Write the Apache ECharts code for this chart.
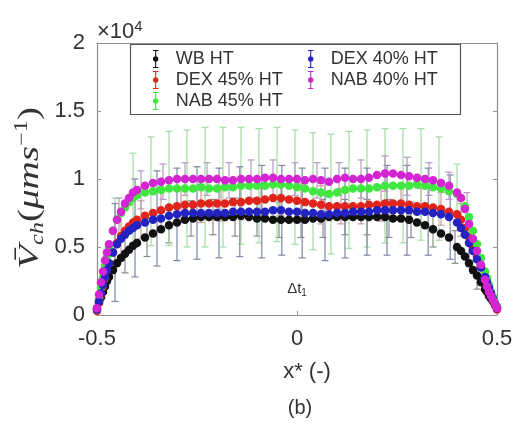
<!DOCTYPE html>
<html>
<head>
<meta charset="utf-8">
<script src="https://cdn.jsdelivr.net/npm/echarts@6/dist/echarts.min.js"></script>
<style>
  html, body { margin: 0; padding: 0; background: #ffffff; }
  #chart { width: 516px; height: 424px; }
</style>
</head>
<body>
<div id="chart"></div>
<script>
// Normalised channel position x* (denser sampling near the walls)
const xs = [
  -0.5, -0.495, -0.49, -0.485, -0.48, -0.475, -0.47,
  -0.46, -0.45, -0.44, -0.43, -0.42, -0.41,
  -0.40, -0.38, -0.36, -0.34, -0.32, -0.30, -0.28, -0.26, -0.24, -0.22,
  -0.20, -0.18, -0.16, -0.14, -0.12, -0.10, -0.08, -0.06, -0.04, -0.02,
  0,
  0.02, 0.04, 0.06, 0.08, 0.10, 0.12, 0.14, 0.16, 0.18, 0.20,
  0.22, 0.24, 0.26, 0.28, 0.30, 0.32, 0.34, 0.36, 0.38, 0.40,
  0.41, 0.42, 0.43, 0.44, 0.45, 0.46, 0.47,
  0.475, 0.48, 0.485, 0.49, 0.495, 0.5
];

// Mean velocity, units of 1e4 µm/s
const wbHT = [
  0.05, 0.09, 0.13, 0.17, 0.21, 0.25, 0.28,
  0.33, 0.38, 0.42, 0.45, 0.48, 0.51,
  0.53, 0.57, 0.60, 0.63, 0.66, 0.68, 0.70, 0.71, 0.72, 0.72,
  0.72, 0.72, 0.72, 0.73, 0.72, 0.71, 0.71, 0.70, 0.70, 0.70,
  0.70,
  0.70, 0.71, 0.71, 0.72, 0.72, 0.72, 0.72, 0.72, 0.72, 0.72,
  0.72, 0.71, 0.71, 0.70, 0.68, 0.66, 0.63, 0.60, 0.57, 0.50,
  0.47, 0.43, 0.38, 0.33, 0.29, 0.24, 0.19,
  0.17, 0.14, 0.12, 0.10, 0.08, 0.06
];
const dex45HT = [
  0.03, 0.09, 0.15, 0.21, 0.27, 0.33, 0.38,
  0.46, 0.53, 0.58, 0.62, 0.65, 0.68,
  0.70, 0.73, 0.75, 0.77, 0.79, 0.80, 0.81, 0.81, 0.82, 0.82,
  0.82, 0.82, 0.83, 0.83, 0.84, 0.84, 0.85, 0.86, 0.86, 0.85,
  0.84,
  0.83, 0.82, 0.81, 0.80, 0.80, 0.80, 0.80, 0.80, 0.81, 0.81,
  0.82, 0.82, 0.82, 0.81, 0.80, 0.80, 0.79, 0.78, 0.76, 0.74,
  0.70, 0.64, 0.57, 0.50, 0.43, 0.36, 0.28,
  0.24, 0.19, 0.15, 0.11, 0.07, 0.04
];
const nab45HT = [
  0.04, 0.12, 0.20, 0.28, 0.36, 0.43, 0.50,
  0.62, 0.70, 0.75, 0.79, 0.83, 0.86,
  0.88, 0.90, 0.91, 0.92, 0.93, 0.93, 0.93, 0.93, 0.94, 0.93,
  0.93, 0.94, 0.94, 0.95, 0.95, 0.95, 0.95, 0.96, 0.96, 0.95,
  0.94,
  0.93, 0.91, 0.90, 0.89, 0.90, 0.92, 0.93, 0.93, 0.93, 0.94,
  0.95, 0.95, 0.95, 0.95, 0.96, 0.95, 0.94, 0.93, 0.91, 0.89,
  0.86, 0.80, 0.72, 0.62, 0.52, 0.42, 0.32,
  0.27, 0.22, 0.17, 0.13, 0.09, 0.06
];
const dex40HT = [
  0.04, 0.10, 0.16, 0.22, 0.28, 0.33, 0.38,
  0.46, 0.52, 0.56, 0.59, 0.62, 0.64,
  0.66, 0.68, 0.70, 0.71, 0.73, 0.74, 0.75, 0.75, 0.75, 0.75,
  0.75, 0.75, 0.76, 0.76, 0.76, 0.76, 0.76, 0.77, 0.77, 0.76,
  0.76,
  0.75, 0.75, 0.74, 0.74, 0.75, 0.75, 0.76, 0.76, 0.76, 0.77,
  0.77, 0.77, 0.77, 0.77, 0.76, 0.76, 0.75, 0.74, 0.72, 0.68,
  0.64, 0.59, 0.53, 0.47, 0.41, 0.35, 0.28,
  0.24, 0.20, 0.16, 0.12, 0.08, 0.05
];
const nab40HT = [
  0.05, 0.15, 0.24, 0.32, 0.40, 0.46, 0.52,
  0.62, 0.70, 0.76, 0.82, 0.86, 0.90,
  0.92, 0.95, 0.97, 0.98, 0.99, 1.00, 1.00, 1.00, 1.00, 1.00,
  1.00, 0.99, 0.99, 1.00, 1.00, 1.00, 1.01, 1.01, 1.00, 1.00,
  1.00,
  0.99, 1.00, 0.99, 0.98, 1.00, 1.01, 1.00, 1.00, 1.01, 1.03,
  1.04, 1.04, 1.03, 1.02, 1.01, 1.00, 0.99, 0.97, 0.95, 0.90,
  0.86, 0.78, 0.67, 0.56, 0.47, 0.37, 0.26,
  0.21, 0.17, 0.14, 0.11, 0.08, 0.05
];

// Standard-deviation error bars: positions and half-widths (1e4 µm/s)
const wbErrX    = [-0.43, -0.375, -0.32, -0.265, -0.21, -0.155, -0.10, -0.045, 0.01, 0.065, 0.12, 0.175, 0.23, 0.285, 0.34, 0.395, 0.45];
const wbErr     = [0.14, 0.14, 0.13, 0.13, 0.13, 0.14, 0.13, 0.13, 0.13, 0.14, 0.13, 0.13, 0.14, 0.13, 0.13, 0.12, 0.10];
const dex45ErrX = [-0.44, -0.39, -0.34, -0.29, -0.24, -0.19, -0.14, -0.09, -0.04, 0.01, 0.06, 0.11, 0.16, 0.21, 0.26, 0.31, 0.36, 0.41];
const dex45Err  = [0.15, 0.14, 0.13, 0.13, 0.14, 0.13, 0.13, 0.12, 0.13, 0.13, 0.14, 0.13, 0.13, 0.12, 0.13, 0.13, 0.12, 0.12];
const nab45ErrX = [-0.455, -0.41, -0.365, -0.32, -0.275, -0.23, -0.185, -0.14, -0.095, -0.05, -0.005, 0.04, 0.085, 0.13, 0.175, 0.22, 0.265, 0.31, 0.355, 0.40];
const nab45Err  = [0.24, 0.33, 0.40, 0.42, 0.43, 0.44, 0.44, 0.43, 0.42, 0.42, 0.42, 0.43, 0.44, 0.43, 0.43, 0.42, 0.42, 0.41, 0.38, 0.22];
const dex40ErrX = [-0.455, -0.405, -0.35, -0.30, -0.25, -0.195, -0.143, -0.088, -0.038, 0.013, 0.07, 0.12, 0.175, 0.225, 0.275, 0.328, 0.383, 0.43];
const dex40Err  = [0.36, 0.36, 0.35, 0.34, 0.34, 0.33, 0.33, 0.34, 0.33, 0.33, 0.34, 0.33, 0.32, 0.33, 0.33, 0.32, 0.31, 0.16];
const nab40ErrX = [-0.445, -0.39, -0.335, -0.28, -0.225, -0.17, -0.115, -0.06, -0.005, 0.05, 0.105, 0.16, 0.22, 0.275, 0.33, 0.38, 0.425];
const nab40Err  = [0.16, 0.14, 0.13, 0.12, 0.12, 0.13, 0.14, 0.13, 0.12, 0.13, 0.12, 0.14, 0.13, 0.14, 0.12, 0.10, 0.12];

// Axis ticks
const xTicks = [-0.5, 0, 0.5];
const yTicks = [0, 0.5, 1, 1.5, 2];

const groups = [
  { name: 'WB HT',      vals: wbHT,    ex: wbErrX,    eh: wbErr,    color: '#111111', errColor: '#8c8c8c' },
  { name: 'DEX 45% HT', vals: dex45HT, ex: dex45ErrX, eh: dex45Err, color: '#e0241c', errColor: '#c99a9a' },
  { name: 'NAB 45% HT', vals: nab45HT, ex: nab45ErrX, eh: nab45Err, color: '#3fe83f', errColor: '#a4dba4' },
  { name: 'DEX 40% HT', vals: dex40HT, ex: dex40ErrX, eh: dex40Err, color: '#2323c4', errColor: '#7d86a8' },
  { name: 'NAB 40% HT', vals: nab40HT, ex: nab40ErrX, eh: nab40Err, color: '#d424d4', errColor: '#b898c2' }
];

function nearestIndex(x) {
  let best = 0;
  for (let i = 1; i < xs.length; i++) {
    if (Math.abs(xs[i] - x) < Math.abs(xs[best] - x)) best = i;
  }
  return best;
}

function renderErrorBar(params, api) {
  const x = api.value(0), lo = api.value(1), hi = api.value(2);
  const top = api.coord([x, hi]);
  const bot = api.coord([x, lo]);
  const cap = 3.5;
  const style = { stroke: api.visual('color'), lineWidth: 1.2, fill: null };
  return {
    type: 'group',
    children: [
      { type: 'line', shape: { x1: top[0], y1: top[1], x2: bot[0], y2: bot[1] }, style: style },
      { type: 'line', shape: { x1: top[0] - cap, y1: top[1], x2: top[0] + cap, y2: top[1] }, style: style },
      { type: 'line', shape: { x1: bot[0] - cap, y1: bot[1], x2: bot[0] + cap, y2: bot[1] }, style: style }
    ]
  };
}

const series = [];
groups.forEach(function (g) {
  const bars = g.ex.map(function (x, i) {
    const c = g.vals[nearestIndex(x)];
    return [x, c - g.eh[i], c + g.eh[i]];
  });
  series.push({
    name: g.name + ' sd',
    type: 'custom',
    renderItem: renderErrorBar,
    itemStyle: { color: g.errColor },
    encode: { x: 0, y: [1, 2] },
    data: bars,
    silent: true
  });
  series.push({
    name: g.name,
    type: 'scatter',
    symbol: 'circle',
    symbolSize: 8.5,
    itemStyle: { color: g.color, opacity: 1 },
    data: xs.map(function (x, i) { return [x, g.vals[i]]; }),
    silent: true
  });
});

const FONT = 'Liberation Sans';
const axisGrey = '#8f8f8f';
const labelColor = '#333333';
const barIcon = 'path://M2,0H8V1.2H2ZM4.4,0H5.6V20H4.4ZM2,18.8H8V20H2ZM5,7A3,3 0 1 1 5,13A3,3 0 1 1 5,7Z';

const legendBase = {
  orient: 'vertical',
  icon: barIcon,
  itemWidth: 30,
  itemHeight: 18,
  itemGap: 3,
  selectedMode: false,
  z: 20,
  textStyle: { fontFamily: FONT, fontSize: 18, color: labelColor },
  top: 45
};

function axisCommon(extra) {
  return Object.assign({
    type: 'value',
    interval: 0.5,
    axisLine: { show: true, onZero: false, lineStyle: { color: axisGrey, width: 1.2 } },
    axisTick: { show: true, inside: true, length: 4, lineStyle: { color: axisGrey } },
    splitLine: { show: false }
  }, extra);
}

const chart = echarts.init(document.getElementById('chart'), null, { renderer: 'canvas' });

chart.setOption({
  animation: false,
  backgroundColor: '#ffffff',
  grid: { left: 97, top: 43, width: 400, height: 272, show: false },
  legend: [
    Object.assign({}, legendBase, { left: 148, data: ['WB HT', 'DEX 45% HT', 'NAB 45% HT'] }),
    Object.assign({}, legendBase, { left: 303, data: ['DEX 40% HT', 'NAB 40% HT'] })
  ],
  xAxis: [
    axisCommon({
      min: xTicks[0], max: xTicks[xTicks.length - 1],
      axisLabel: { fontFamily: FONT, fontSize: 22, color: labelColor, margin: 13 }
    }),
    axisCommon({
      position: 'top', min: xTicks[0], max: xTicks[xTicks.length - 1],
      axisLabel: { show: false }
    })
  ],
  yAxis: [
    axisCommon({
      min: yTicks[0], max: yTicks[yTicks.length - 1],
      axisLabel: { fontFamily: FONT, fontSize: 22, color: labelColor, margin: 12 }
    }),
    axisCommon({
      position: 'right', min: yTicks[0], max: yTicks[yTicks.length - 1],
      axisLabel: { show: false }
    })
  ],
  series: series
});

// Text furniture: exponent, axis titles, panel tag, legend frame, Δt₁ note
const dtPos = chart.convertToPixel({ xAxisIndex: 0, yAxisIndex: 0 }, [0, 0.19]);
chart.setOption({
  graphic: [
    {
      type: 'rect', z: 10, silent: true,
      shape: { x: 130.5, y: 44.5, width: 330, height: 70 },
      style: { fill: '#ffffff', stroke: '#555555', lineWidth: 1.2 }
    },
    {
      type: 'text', z: 60, x: 97, y: 32, silent: true,
      style: {
        text: '{a|×10}{b|4}',
        verticalAlign: 'middle',
        rich: {
          a: { fontFamily: FONT, fontSize: 22, fill: labelColor, lineHeight: 26 },
          b: { fontFamily: FONT, fontSize: 15, fill: labelColor, verticalAlign: 'top', lineHeight: 26 }
        }
      }
    },
    {
      type: 'text', z: 60, x: 30, y: 188, rotation: Math.PI / 2, scaleX: 1.35, silent: true,
      style: {
        text: '{v|V\u0304}{s|ch}{p|(}{m|μms}{e|−1}{p|)}',
        align: 'center', verticalAlign: 'middle',
        rich: {
          v: { fontFamily: 'Liberation Serif', fontStyle: 'italic', fontSize: 29, fill: labelColor, lineHeight: 34 },
          s: { fontFamily: 'Liberation Serif', fontStyle: 'italic', fontSize: 18, fill: labelColor, verticalAlign: 'bottom', lineHeight: 34 },
          p: { fontFamily: 'Liberation Serif', fontSize: 29, fill: labelColor, lineHeight: 34 },
          m: { fontFamily: 'Liberation Serif', fontStyle: 'italic', fontSize: 29, fill: labelColor, lineHeight: 34 },
          e: { fontFamily: 'Liberation Serif', fontSize: 18, fill: labelColor, verticalAlign: 'top', lineHeight: 34 }
        }
      }
    },
    {
      type: 'text', z: 60, x: 307, y: 372, silent: true,
      style: { text: 'x* (-)', fontFamily: FONT, fontSize: 22, fill: labelColor, align: 'center', verticalAlign: 'middle' }
    },
    {
      type: 'text', z: 60, x: 300, y: 408, silent: true,
      style: { text: '(b)', fontFamily: FONT, fontSize: 20, fill: labelColor, align: 'center', verticalAlign: 'middle' }
    },
    {
      type: 'text', z: 60, x: dtPos[0], y: dtPos[1], silent: true,
      style: {
        text: '{a|Δt}{b|1}',
        align: 'center', verticalAlign: 'middle',
        rich: {
          a: { fontFamily: FONT, fontSize: 15, fill: labelColor, lineHeight: 18 },
          b: { fontFamily: FONT, fontSize: 10, fill: labelColor, verticalAlign: 'bottom', lineHeight: 18 }
        }
      }
    }
  ]
});
</script>
</body>
</html>
